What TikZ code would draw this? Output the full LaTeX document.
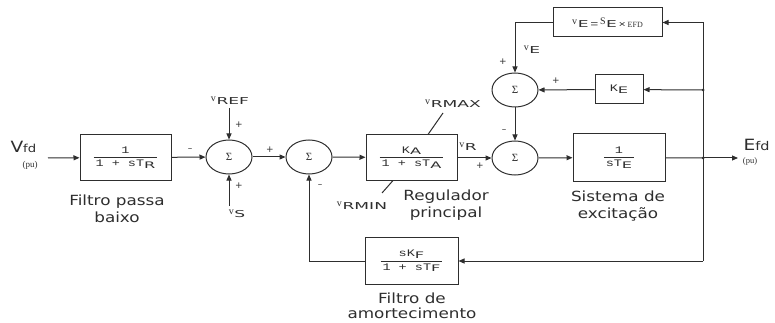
\documentclass[tikz,border=0pt]{standalone}
\usepackage{fontspec}
\setmainfont{DejaVu Sans}
\newfontfamily\lblfont[FakeStretch=1.2]{DejaVu Sans}
\newfontfamily\subfont[FakeStretch=1.8]{DejaVu Sans}
\newfontfamily\bxfont[FakeStretch=1.35]{Liberation Mono}
\newfontfamily\vfont{Liberation Serif}
\usetikzlibrary{arrows.meta,shapes.geometric}

\newcommand\vsym[2][v]{{\fontsize{10}{10}\vfont\raisebox{2.6pt}{#1}}\kern0.6pt{\fontsize{9.5}{10}\subfont #2}}
\newcommand\bsub[1]{\raisebox{-1.6pt}{\fontsize{9}{9}\subfont #1}}
\newcommand\bfrac[2]{$\displaystyle{\hbox{\kern1pt\fontsize{10}{10}\bxfont #1\kern1pt}\above0.8pt\hbox{\kern2pt\fontsize{10}{10}\bxfont #2\kern2pt}}$}
\newcommand\sig{{\fontsize{11}{11}\vfont Σ}}

\tikzset{
  blkbox/.style={draw, line width=1pt, inner sep=1pt, align=center},
  sumnode/.style={ellipse, draw, line width=1pt, minimum width=46pt, minimum height=34pt, inner sep=0pt},
  arr/.style={-{Triangle[length=6pt,width=5pt]}},
  lbl/.style={align=center, inner sep=0pt, font=\fontsize{14}{17}\lblfont},
  sgn/.style={inner sep=0pt, font=\fontsize{9}{9}\selectfont},
  vlbl/.style={inner sep=0pt},
}

\begin{document}
\begin{tikzpicture}[x=1pt,y=-1pt,line width=1pt,color=black!82]
\useasboundingbox (0,0) rectangle (775,323);

% blocks
\node[blkbox, minimum width=91pt, minimum height=46pt] (b1) at (125.5,157.5) {\bfrac{1}{1 + sT\bsub{R}}};
\node[sumnode] (s1) at (229,157) {\sig};
\node[sumnode] (s2) at (309,157) {\sig};
\node[blkbox, minimum width=91pt, minimum height=45pt] (b2) at (411.5,157.5) {\bfrac{K\bsub{A}}{1 + sT\bsub{A}}};
\node[sumnode] (s3) at (515,158) {\sig};
\node[sumnode] (s4) at (515,90) {\sig};
\node[blkbox, minimum width=109pt, minimum height=29pt] (bve) at (607.5,22.5)
  {\vsym{E}\,{\fontsize{10}{10}\bxfont =}\,\vsym[S]{E}\,{\fontsize{9}{9}\bxfont ×}\,{\fontsize{8}{8}\vfont EFD}};
\node[blkbox, minimum width=48pt, minimum height=29pt] (bke) at (619,89.5) {{\fontsize{10}{10}\bxfont K}\bsub{E}};
\node[blkbox, minimum width=92pt, minimum height=47pt] (b3) at (619,157.5) {\bfrac{1}{sT\bsub{E}}};
\node[blkbox, minimum width=93pt, minimum height=47pt] (b4) at (411.5,261) {\bfrac{sK\bsub{F}}{1 + sT\bsub{F}}};

% coordinates
\coordinate (in) at (48,158);
\coordinate (out) at (738,158);
\coordinate (j1) at (703,158);
\coordinate (j2) at (703,90);
\coordinate (c1) at (703,22.5);
\coordinate (c2) at (703,261);
\coordinate (vrefin) at (229,108);
\coordinate (vsin) at (229,206);
\coordinate (rmaxend) at (443,113);
\coordinate (rminend) at (382,193);

% input / output labels
\node[anchor=base west, inner sep=0pt] (lvfd) at (10,153) {{\fontsize{15.5}{16}\lblfont V}{\fontsize{11}{11}\lblfont fd}};
\node[inner sep=0pt] (lpu1) at (30,165) {\fontsize{9}{9}\vfont (pu)};
\node[anchor=base west, inner sep=0pt] (lefd) at (743,150) {{\fontsize{15.5}{16}\lblfont E}{\fontsize{12}{12}\lblfont fd}};
\node[inner sep=0pt] (lpu2) at (750,161) {\fontsize{8.5}{9}\vfont (pu)};

% signal labels
\node[vlbl] (lvref) at (230,101) {\vsym{REF}};
\node[vlbl] (lvs) at (237,214) {\vsym{S}};
\node[vlbl] (lrmax) at (453,104) {\vsym{RMAX}};
\node[vlbl] (lrmin) at (362,206) {\vsym{RMIN}};
\node[vlbl] (lvr) at (468,147) {\vsym{R}};
\node[vlbl] (lve) at (532,50) {\vsym{E}};

% signs
\node[sgn] (p1) at (190,150) {--};
\node[sgn] (p2) at (239,125) {+};
\node[sgn] (p3) at (239,186) {+};
\node[sgn] (p4) at (270,150) {+};
\node[sgn] (p5) at (320,186) {--};
\node[sgn] (p6) at (504,131) {--};
\node[sgn] (p7) at (480,166) {+};
\node[sgn] (p8) at (503,62) {+};
\node[sgn] (p9) at (556,81) {+};

% descriptions
\node[lbl] (t1) at (117,209) {Filtro passa\\baixo};
\node[lbl] (t2) at (446,205) {Regulador\\principal};
\node[lbl] (t3) at (618,206) {Sistema de\\excitação};
\node[lbl, font=\fontsize{14}{14.5}\lblfont] (t4) at (412,306) {Filtro de\\amortecimento};

% connectors
\draw[arr] (in) -- (b1);
\draw[arr] (b1) -- (s1);
\draw[arr] (vrefin) -- (s1);
\draw[arr] (vsin) -- (s1);
\draw[arr] (s1) -- (s2);
\draw[arr] (s2) -- (b2);
\draw[arr] (b2.east |- s3.west) -- (s3.west);
\draw[arr] (s3) -- (b3);
\draw (b3) -- (j1);
\draw[arr] (j1) -- (out);
\draw (j1) -- (c1);
\draw[arr] (c1) -- (bve.east);
\draw[arr] (j2) -- (bke);
\draw[arr] (bke) -- (s4);
\draw[arr] (bve.west) -| (s4.north);
\draw[arr] (s4) -- (s3);
\draw (j1) -- (c2);
\draw[arr] (c2) -- (b4.east);
\draw[arr] (b4.west) -| (s2.south);
\draw ([xshift=16.5pt]b2.north) -- (rmaxend);
\draw ([xshift=-18.5pt]b2.south) -- (rminend);
\fill (j1) circle (1.5pt);
\fill (j2) circle (1.5pt);
\end{tikzpicture}
\end{document}
